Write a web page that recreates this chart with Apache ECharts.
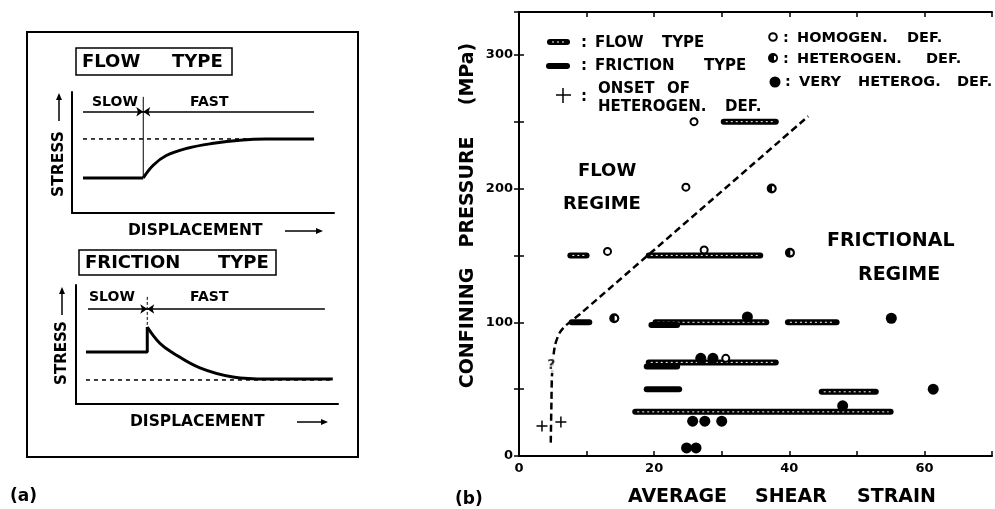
<!DOCTYPE html>
<html>
<head>
<meta charset="utf-8">
<title>Flow type / friction type</title>
<script src="https://cdn.jsdelivr.net/npm/echarts@6/dist/echarts.min.js"></script>
<style>
  html, body { margin: 0; padding: 0; background: #fff; }
  #main { width: 995px; height: 509px; }
</style>
</head>
<body>
<div id="main"></div>
<script>
// ---- (b) data: bars are [strain from, strain to, pressure MPa] ----
var flowBars = [
  [7.6, 10, 150], [30.3, 38, 250], [19.2, 35.7, 150], [20.2, 36.6, 100],
  [19.2, 38, 70], [17.2, 55, 33], [44.8, 52.8, 48], [39.8, 47, 100]
];
var frictionBars = [[7.8, 10.4, 100], [19.6, 23.4, 98], [18.9, 23.4, 67], [18.9, 23.7, 50]];
var homogen = [[25.9, 250], [24.7, 201], [13.1, 153], [27.4, 154], [30.6, 73]];
var heterogen = [[37.4, 200], [40.1, 152], [14.1, 103]];
var veryHeterog = [
  [33.8, 104], [55.1, 103], [26.9, 73], [28.7, 73], [61.3, 50], [47.9, 37.5],
  [25.7, 26], [27.5, 26], [30, 26], [24.8, 6], [26.2, 6]
];
var onset = [[3.4, 22.5], [6.2, 25.4]];
var unsure = [[4.8, 68]];
var boundary = [[4.7, 10], [4.8, 40], [4.9, 62], [5.3, 82], [6.0, 92], [6.8, 97], [8, 102], [9, 106], [42.8, 254]];
var xLabels = [0, 20, 40, 60];
var yLabels = [0, 100, 200, 300];

// ---- (a) schematic curves (displacement, stress on 0-100 scales) ----
var flowSlow = [[4.2, 29], [27.2, 29]];
var flowRise = [[27.2, 29], [31, 39.5], [36, 47.5], [44, 53.5], [54, 57.6], [64, 60.2], [74, 61.2], [92.4, 61.2]];
var flowLevel = [[4.2, 61.2], [92.4, 61.2]];
var flowSwitch = [[27.2, 96], [27.2, 29]];
var flowRate = [[[4.2, 83.7], [27.2, 83.7]], [[92.4, 83.7], [27.2, 83.7]]];

var fricSlow = [[3.8, 43.7], [27.2, 43.7], [27.2, 64.7]];
var fricDecay = [[27.2, 64.7], [32, 51], [37, 42.9], [47.3, 30.3], [59.9, 22.7], [72.9, 21], [98, 21]];
var fricLevel = [[3.8, 20.2], [98, 20.2]];
var fricSwitch = [[27.2, 90], [27.2, 64.7]];
var fricRate = [[[4.6, 79.8], [27.2, 79.8]], [[95, 79.8], [27.2, 79.8]]];

var FONT = 'DejaVu Sans';

// 文字
function txt(x, y, s, size, align, rot) {
  return {
    type: 'text', x: x, y: y, rotation: rot || 0, z: 50,
    style: {
      text: s, fill: '#000', fontSize: size, fontWeight: 'bold', fontFamily: FONT,
      textAlign: align || 'left', align: align || 'left',
      textVerticalAlign: 'middle', verticalAlign: 'middle'
    }
  };
}
// 箭头
function arrow(x1, y1, x2, y2) {
  var dx = x2 - x1, dy = y2 - y1, len = Math.sqrt(dx * dx + dy * dy);
  var ux = dx / len, uy = dy / len, h = 7, w = 3;
  var bx = x2 - ux * h, by = y2 - uy * h;
  return [
    { type: 'line', shape: { x1: x1, y1: y1, x2: bx, y2: by }, style: { stroke: '#000', lineWidth: 1.5 } },
    { type: 'polygon', shape: { points: [[x2, y2], [bx - uy * w, by + ux * w], [bx + uy * w, by - ux * w]] }, style: { fill: '#000' } }
  ];
}
function seg(x1, y1, x2, y2, w, extra) {
  var st = { stroke: '#000', lineWidth: w };
  if (extra) { for (var k in extra) st[k] = extra[k]; }
  return { type: 'line', z: 50, shape: { x1: x1, y1: y1, x2: x2, y2: y2 }, style: st };
}

var graphic = [
  // (a) 外框
  { type: 'rect', shape: { x: 27, y: 32, width: 331, height: 425 }, style: { fill: 'none', stroke: '#000', lineWidth: 2 } },
  { type: 'rect', shape: { x: 76, y: 48, width: 156, height: 27 }, style: { fill: 'none', stroke: '#000', lineWidth: 1.5 } },
  { type: 'rect', shape: { x: 79, y: 250, width: 197, height: 25 }, style: { fill: 'none', stroke: '#000', lineWidth: 1.5 } },
  txt(82, 62, 'FLOW', 18), txt(172, 62, 'TYPE', 18),
  txt(85, 263, 'FRICTION', 18), txt(218, 263, 'TYPE', 18),
  txt(92, 102, 'SLOW', 14), txt(190, 102, 'FAST', 14),
  txt(89, 297, 'SLOW', 14), txt(190, 297, 'FAST', 14),
  txt(59, 164, 'STRESS', 15.5, 'center', Math.PI / 2),
  txt(62, 353, 'STRESS', 15, 'center', Math.PI / 2),
  txt(128, 231, 'DISPLACEMENT', 15.5), txt(130, 422, 'DISPLACEMENT', 15.5),
  txt(10, 497, '(a)', 17), txt(455, 500, '(b)', 17),
  // (b) 区域文字
  txt(578, 171, 'FLOW', 18), txt(563, 204, 'REGIME', 18),
  txt(827, 241, 'FRICTIONAL', 19), txt(858, 275, 'REGIME', 19),
  txt(628, 497, 'AVERAGE', 19), txt(755, 497, 'SHEAR', 19), txt(857, 497, 'STRAIN', 19),
  txt(468, 328, 'CONFINING', 19, 'center', Math.PI / 2),
  txt(468, 192, 'PRESSURE', 19, 'center', Math.PI / 2),
  txt(468, 74, '(MPa)', 19, 'center', Math.PI / 2),
  // 图例 左
  seg(550, 42, 567, 42, 6, { lineCap: 'round' }),
  seg(552, 42, 565, 42, 1, { stroke: '#fff', lineDash: [2, 3] }),
  seg(549, 66, 567, 66, 6, { lineCap: 'round' }),
  seg(556, 95, 571, 95, 1.5), seg(563, 88, 563, 103, 1.5),
  txt(581, 43, ':', 15), txt(595, 43, 'FLOW', 15), txt(662, 43, 'TYPE', 15),
  txt(581, 66, ':', 15), txt(595, 66, 'FRICTION', 15), txt(704, 66, 'TYPE', 15),
  txt(581, 97, ':', 15), txt(598, 89, 'ONSET', 15), txt(667, 89, 'OF', 15),
  txt(598, 107, 'HETEROGEN.', 15), txt(725, 107, 'DEF.', 15),
  // 图例 右
  { type: 'circle', z: 50, shape: { cx: 773, cy: 37, r: 3.8 }, style: { fill: '#fff', stroke: '#000', lineWidth: 2 } },
  { type: 'circle', z: 50, shape: { cx: 773, cy: 58, r: 5 }, style: { fill: '#000' } },
  { type: 'sector', z: 51, shape: { cx: 774, cy: 58, r: 2.3, startAngle: -Math.PI / 2, endAngle: Math.PI / 2 }, style: { fill: '#fff' } },
  { type: 'circle', z: 50, shape: { cx: 775, cy: 82, r: 5.5 }, style: { fill: '#000' } },
  txt(783, 38, ':', 14.5), txt(797, 38, 'HOMOGEN.', 14.5), txt(907, 38, 'DEF.', 14.5),
  txt(783, 59, ':', 14.5), txt(797, 59, 'HETEROGEN.', 14.5), txt(926, 59, 'DEF.', 14.5),
  txt(785, 82, ':', 14.5), txt(799, 82, 'VERY', 14.5), txt(858, 82, 'HETEROG.', 14.5), txt(957, 82, 'DEF.', 14.5)
];
graphic = graphic
  .concat(arrow(59, 121, 59, 93)).concat(arrow(62, 315, 62, 287))
  .concat(arrow(285, 231, 323, 231)).concat(arrow(297, 422, 328, 422));

// 水平条
function barRender(dotted) {
  return function (params, api) {
    var a = api.coord([api.value(0), api.value(2)]);
    var b = api.coord([api.value(1), api.value(2)]);
    var kids = [{ type: 'line', shape: { x1: a[0], y1: a[1], x2: b[0], y2: b[1] }, style: { stroke: '#000', lineWidth: 6, lineCap: 'round' } }];
    if (dotted) {
      kids.push({ type: 'line', shape: { x1: a[0] + 2, y1: a[1], x2: b[0] - 2, y2: b[1] }, style: { stroke: '#fff', lineWidth: 1, lineDash: [2, 3] } });
    }
    return { type: 'group', children: kids };
  };
}

function plainAxis(g) {
  return {
    type: 'value', gridIndex: g, min: 0, max: 100,
    axisLine: { show: true, onZero: false, lineStyle: { color: '#000', width: 2 } },
    axisTick: { show: false }, axisLabel: { show: false }, splitLine: { show: false }
  };
}
function curve(data, g, opt) {
  return {
    type: 'line', xAxisIndex: g + 1, yAxisIndex: g + 1, data: data, symbol: 'none',
    smooth: opt.smooth || false, silent: true,
    lineStyle: { color: '#000', width: opt.width || 3, type: opt.type || 'solid' }
  };
}
function rateArrows(pairs, g) {
  return {
    type: 'lines', coordinateSystem: 'cartesian2d', xAxisIndex: g + 1, yAxisIndex: g + 1,
    symbol: ['none', 'arrow'], symbolSize: 7, silent: true,
    lineStyle: { color: '#000', width: 1.5, opacity: 1 },
    data: pairs.map(function (p) { return { coords: p }; })
  };
}

var axisBlack = { color: '#000', width: 2 };
var tickIn = { show: true, inside: true, length: 5, lineStyle: { color: '#000', width: 1.5 } };

var myChart = echarts.init(document.getElementById('main'));
var option = {
  animation: false,
  backgroundColor: '#fff',
  textStyle: { fontFamily: FONT },
  grid: [
    { left: 519, top: 12, right: 0, bottom: 53 },
    { left: 72, top: 92, width: 262, height: 121 },
    { left: 76, top: 285, width: 262, height: 119 }
  ],
  xAxis: [
    {
      type: 'value', gridIndex: 0, min: 0, max: 70, interval: 10,
      axisLine: { onZero: false, lineStyle: axisBlack }, axisTick: tickIn, splitLine: { show: false },
      axisLabel: { margin: 6, color: '#000', fontSize: 13, fontWeight: 'bold', fontFamily: FONT,
        formatter: function (v) { return xLabels.indexOf(v) >= 0 ? String(v) : ''; } }
    },
    {
      type: 'value', gridIndex: 0, position: 'top', min: 0, max: 70, interval: 10,
      axisLine: { onZero: false, lineStyle: axisBlack }, axisTick: tickIn,
      axisLabel: { show: false }, splitLine: { show: false }
    },
    plainAxis(1), plainAxis(2)
  ],
  yAxis: [
    {
      type: 'value', gridIndex: 0, min: 0, max: 332, interval: 50,
      axisLine: { show: true, onZero: false, lineStyle: axisBlack }, axisTick: tickIn, splitLine: { show: false },
      axisLabel: { margin: 6, color: '#000', fontSize: 13, fontWeight: 'bold', fontFamily: FONT,
        formatter: function (v) { return yLabels.indexOf(v) >= 0 ? String(v) : ''; } }
    },
    {
      type: 'value', gridIndex: 0, position: 'right', min: 0, max: 332, interval: 50,
      axisLine: { show: false }, axisTick: tickIn, axisLabel: { show: false }, splitLine: { show: false }
    },
    plainAxis(1), plainAxis(2)
  ],
  graphic: graphic,
  series: [
    // (b)
    { type: 'custom', name: 'flow type', xAxisIndex: 0, yAxisIndex: 0, renderItem: barRender(true),
      encode: { x: [0, 1], y: 2 }, data: flowBars, z: 2, silent: true },
    { type: 'custom', name: 'friction type', xAxisIndex: 0, yAxisIndex: 0, renderItem: barRender(false),
      encode: { x: [0, 1], y: 2 }, data: frictionBars, z: 2, silent: true },
    { type: 'line', name: 'boundary', xAxisIndex: 0, yAxisIndex: 0, data: boundary, symbol: 'none', smooth: 0.3,
      lineStyle: { color: '#000', width: 2.5, type: [7, 4] }, z: 1, silent: true },
    { type: 'scatter', name: 'homogen. def.', data: homogen, symbol: 'circle', symbolSize: 7, z: 4,
      itemStyle: { color: '#fff', borderColor: '#000', borderWidth: 2, opacity: 1 } },
    { type: 'scatter', name: 'heterogen. def.', data: heterogen, symbol: 'circle', symbolSize: 10, z: 4,
      itemStyle: { color: '#000', opacity: 1 } },
    { type: 'scatter', name: 'heterogen. hole', data: heterogen, symbol: 'path://M0,0 A10,10 0 0,1 0,20 Z',
      symbolSize: [2.5, 5], symbolOffset: [1.6, 0], z: 5, itemStyle: { color: '#fff', opacity: 1 } },
    { type: 'scatter', name: 'very heterog. def.', data: veryHeterog, symbol: 'circle', symbolSize: 11, z: 4,
      itemStyle: { color: '#000', opacity: 1 } },
    { type: 'scatter', name: 'onset', data: onset, symbol: 'path://M5.2,0H6.8V5.2H12V6.8H6.8V12H5.2V6.8H0V5.2H5.2Z',
      symbolSize: 11, z: 4, itemStyle: { color: '#000', opacity: 1 } },
    { type: 'scatter', name: 'unsure', data: unsure, symbolSize: 1, z: 4, itemStyle: { color: 'rgba(0,0,0,0)' },
      label: { show: true, position: 'inside', formatter: '?', color: '#000', fontSize: 14, fontWeight: 'bold',
        fontFamily: FONT, backgroundColor: '#fff', padding: [1, 1] } },
    // (a) flow type
    curve(flowSlow, 1, { width: 3 }),
    curve(flowRise, 1, { width: 3, smooth: 0.4 }),
    curve(flowLevel, 1, { width: 1.5, type: [4, 4] }),
    curve(flowSwitch, 1, { width: 1 }),
    rateArrows(flowRate, 1),
    // (a) friction type
    curve(fricSlow, 2, { width: 3 }),
    curve(fricDecay, 2, { width: 3, smooth: 0.4 }),
    curve(fricLevel, 2, { width: 1.5, type: [4, 4] }),
    curve(fricSwitch, 2, { width: 1, type: [3, 2] }),
    rateArrows(fricRate, 2)
  ]
};
myChart.setOption(option);
window.addEventListener('resize', function () {
  myChart.resize();
});
</script>
</body>
</html>
